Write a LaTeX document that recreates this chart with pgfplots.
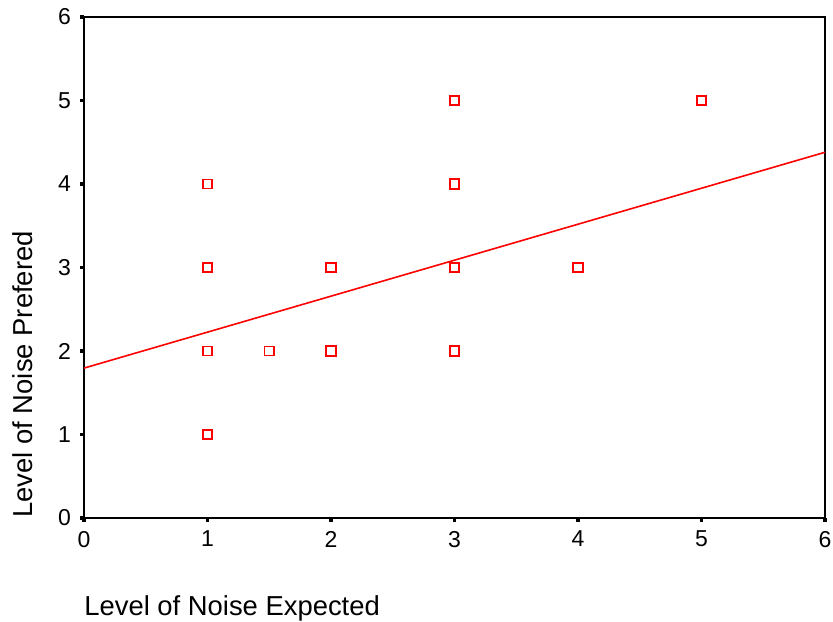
\documentclass[border=0pt]{standalone}
\usepackage{pgfplots}
\pgfplotsset{compat=1.18}
\usepackage{fontspec}
\setmainfont{Liberation Sans}
\begin{document}
\begin{tikzpicture}
\begin{axis}[
  scale only axis,
  width=370.5pt, height=250.5pt,
  xmin=0, xmax=6, ymin=0, ymax=6,
  xtick={0,...,6}, ytick={0,...,6},
  xtick pos=left, ytick pos=left,
  axis line style={line width=1pt, black},
  tick align=outside,
  major tick length=2pt,
  tick style={line width=1.6pt, black},
  /pgf/number format/assume math mode=true,
  ticklabel style={font=\fontsize{11.5}{13}\selectfont},
  xticklabel style={yshift=-1pt, inner xsep=0.5pt},
  yticklabel style={xshift=-1pt},
  xlabel={Level of Noise Expected},
  ylabel={Level of Noise Prefered},
  label style={font=\fontsize{13.7}{16}\selectfont, inner sep=0pt},
  xlabel style={at={(axis description cs:0,-0.155)}, anchor=north west},
  ylabel style={at={(axis description cs:-0.097,0)}, anchor=north west, rotate=0},
  clip=false,
]
\addplot[red, only marks, mark=square, mark size=2.3pt, mark options={line width=0.65pt}] coordinates {
 (1,4) (1,2) (1,1) (1.5,2) (3,5)
};
\addplot[red, only marks, mark=square, mark size=2.3pt, mark options={line width=1pt}] coordinates {
 (1,3) (2,3) (2,2) (3,4) (3,3) (3,2) (4,3) (5,5)
};
\addplot[red, line width=0.8pt] coordinates {(0,1.795) (6,4.38)};
\end{axis}
\path ([xshift=-42pt]current axis.south west) -- ([xshift=4pt,yshift=8.5pt]current axis.north east);
\end{tikzpicture}
\end{document}
